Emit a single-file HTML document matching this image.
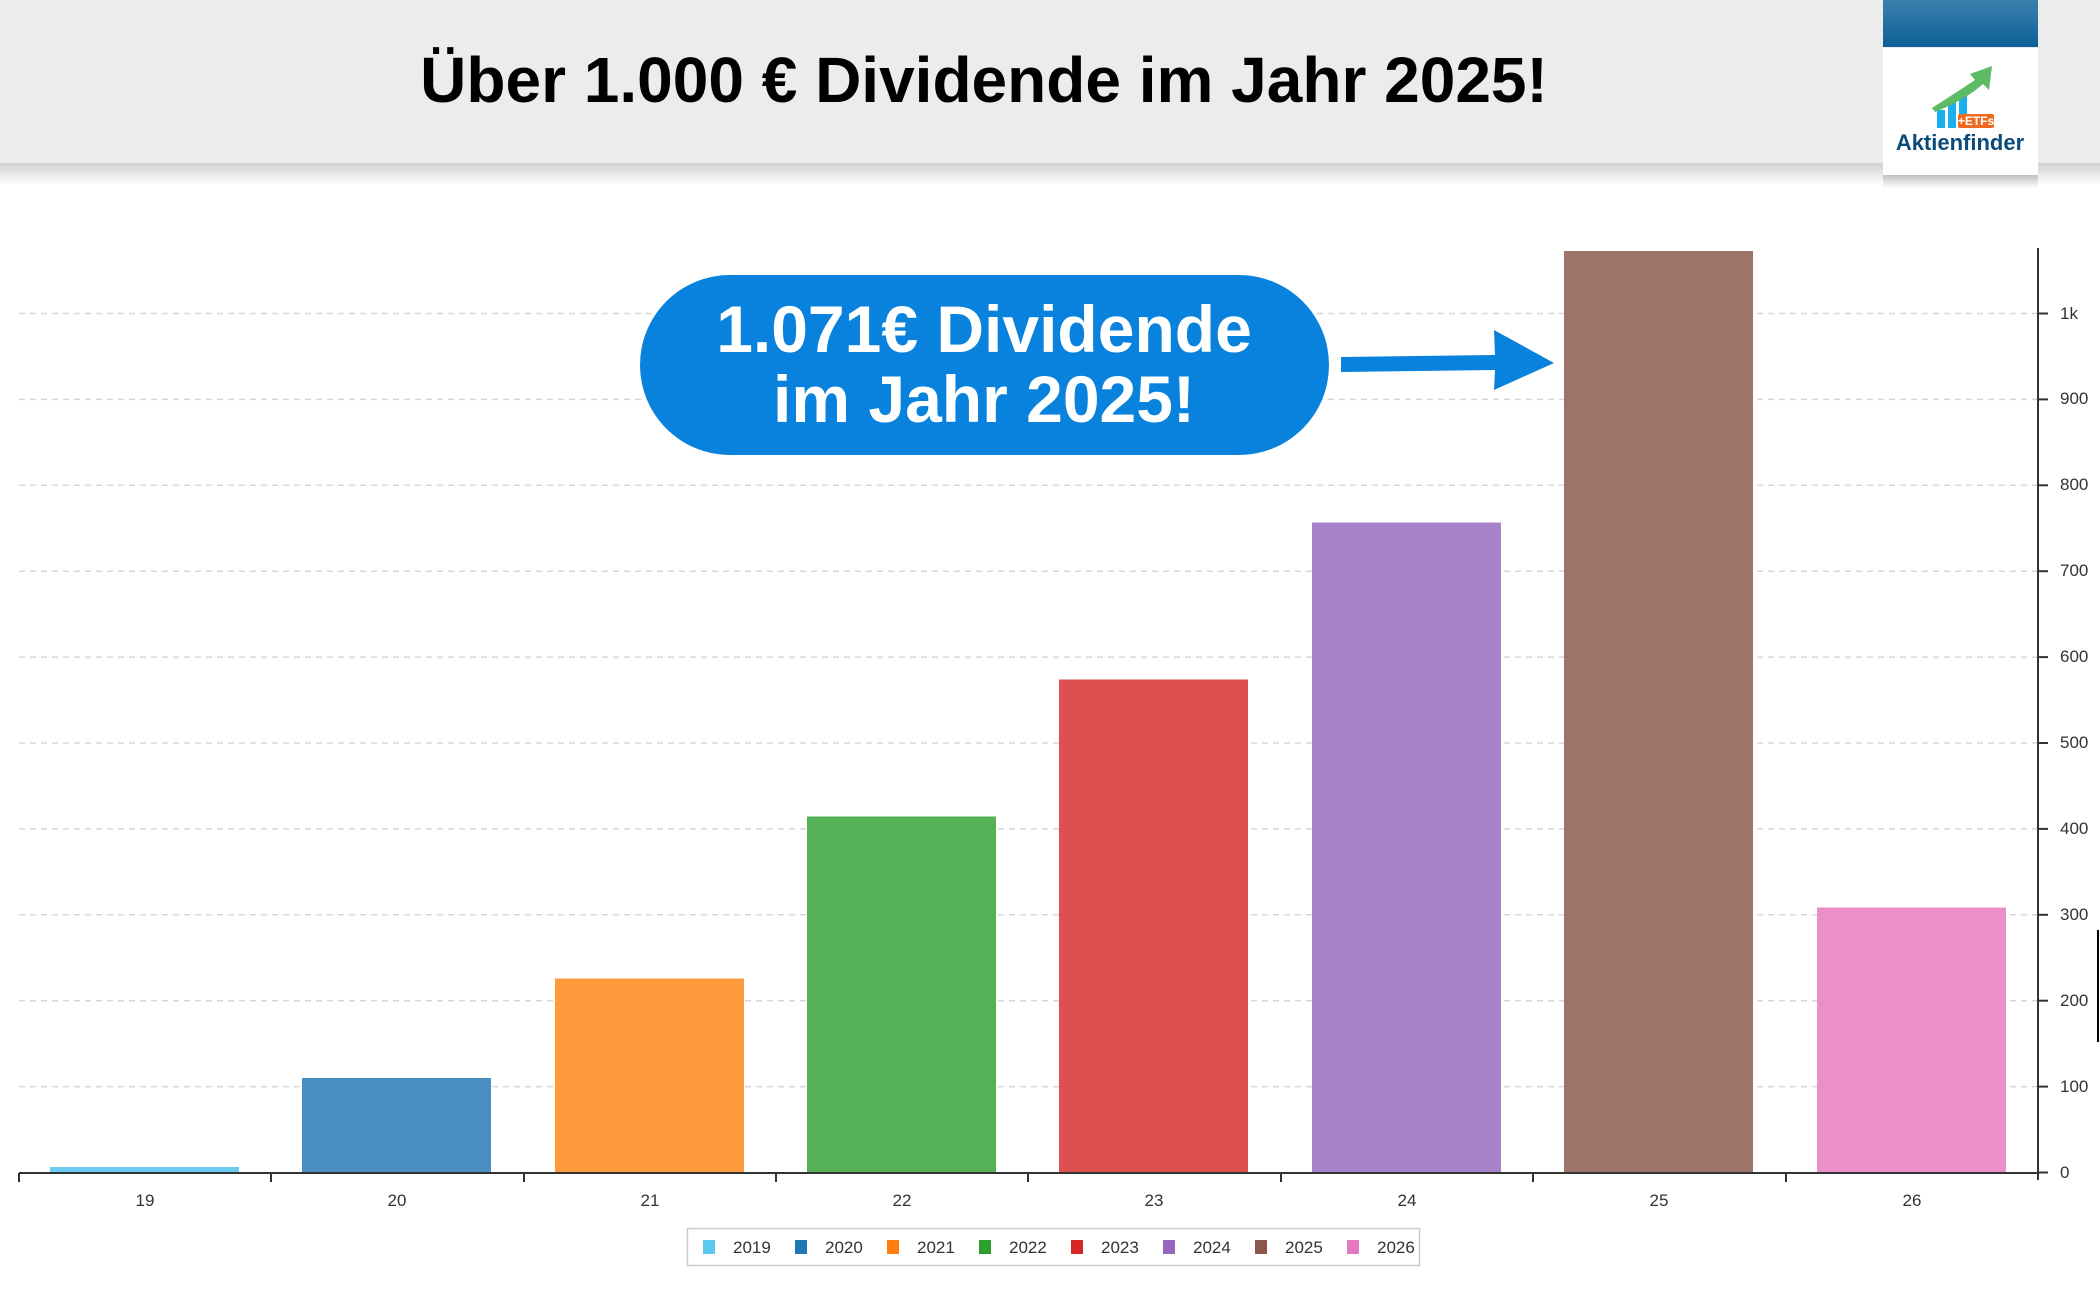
<!DOCTYPE html>
<html><head><meta charset="utf-8"><style>
html,body{margin:0;padding:0;width:2100px;height:1292px;overflow:hidden;background:#fff}
svg{display:block}
</style></head><body>
<svg width="2100" height="1292" viewBox="0 0 2100 1292" xmlns="http://www.w3.org/2000/svg" font-family="'Liberation Sans', sans-serif">
<defs>
<linearGradient id="sh" x1="0" y1="0" x2="0" y2="1"><stop offset="0" stop-color="#000" stop-opacity="0.18"/><stop offset="1" stop-color="#000" stop-opacity="0"/></linearGradient>
<linearGradient id="bl" x1="0" y1="0" x2="0" y2="1"><stop offset="0" stop-color="#3b80ae"/><stop offset="1" stop-color="#0c5f96"/></linearGradient>
</defs>
<rect x="0" y="0" width="2100" height="163" fill="#ececec"/>
<rect x="0" y="163" width="2100" height="22" fill="url(#sh)"/>
<text x="984" y="102" text-anchor="middle" font-size="64" font-weight="bold" fill="#000">Über 1.000 € Dividende im Jahr 2025!</text>
<!-- logo -->
<rect x="1883" y="48" width="155" height="127" fill="#fff"/>
<rect x="1883" y="175" width="155" height="14" fill="url(#sh)"/>
<rect x="1883" y="0" width="155" height="47" fill="url(#bl)"/>
<rect x="1937" y="110" width="8" height="18" fill="#1ab0f0"/>
<rect x="1948" y="102" width="8" height="26" fill="#1ab0f0"/>
<rect x="1959" y="94" width="8" height="34" fill="#1ab0f0"/>
<path d="M1932 108 Q1960 90 1975 80 L1970 74 L1992 66 L1989 90 L1983 84 Q1965 100 1935 112 Z" fill="#5dbb63"/>
<rect x="1958" y="114" width="36" height="14" rx="2" fill="#ee6a1f"/>
<text x="1976" y="125" text-anchor="middle" font-size="12" font-weight="bold" fill="#fff">+ETFs</text>
<text x="1960" y="150" text-anchor="middle" font-size="22" font-weight="bold" fill="#0b4b7a">Aktienfinder</text>
<!-- gridlines -->
<g stroke="#d8d8d8" stroke-width="1.5" stroke-dasharray="6,5">
<line x1="19" x2="2038" y1="1086.6" y2="1086.6"/>
<line x1="19" x2="2038" y1="1000.7" y2="1000.7"/>
<line x1="19" x2="2038" y1="914.8" y2="914.8"/>
<line x1="19" x2="2038" y1="828.9" y2="828.9"/>
<line x1="19" x2="2038" y1="743" y2="743"/>
<line x1="19" x2="2038" y1="657.1" y2="657.1"/>
<line x1="19" x2="2038" y1="571.2" y2="571.2"/>
<line x1="19" x2="2038" y1="485.3" y2="485.3"/>
<line x1="19" x2="2038" y1="399.4" y2="399.4"/>
<line x1="19" x2="2038" y1="313.5" y2="313.5"/>
</g>
<!-- bars -->
<rect x="50" y="1167" width="189" height="5.5" fill="#6ccbf0"/>
<rect x="302" y="1078" width="189" height="94.5" fill="#4a8fc2"/>
<rect x="555" y="978.5" width="189" height="194" fill="#fd9a3b"/>
<rect x="807" y="816.5" width="189" height="356" fill="#55b155"/>
<rect x="1059" y="679.5" width="189" height="493" fill="#dc5050"/>
<rect x="1312" y="522.5" width="189" height="650" fill="#a983c9"/>
<rect x="1564" y="251" width="189" height="921.5" fill="#9e746a"/>
<rect x="1817" y="907.5" width="189" height="265" fill="#ea8fca"/>
<!-- axes -->
<g stroke="#333" stroke-width="2">
<line x1="19" x2="2038" y1="1173" y2="1173"/>
<line x1="2038" x2="2038" y1="248" y2="1180"/>
<line x1="19" x2="19" y1="1173" y2="1182"/><line x1="271" x2="271" y1="1173" y2="1182"/><line x1="524" x2="524" y1="1173" y2="1182"/><line x1="776" x2="776" y1="1173" y2="1182"/><line x1="1028" x2="1028" y1="1173" y2="1182"/><line x1="1281" x2="1281" y1="1173" y2="1182"/><line x1="1533" x2="1533" y1="1173" y2="1182"/><line x1="1786" x2="1786" y1="1173" y2="1182"/>
<line x1="2038" x2="2048" y1="1172.5" y2="1172.5"/><line x1="2038" x2="2048" y1="1086.6" y2="1086.6"/><line x1="2038" x2="2048" y1="1000.7" y2="1000.7"/><line x1="2038" x2="2048" y1="914.8" y2="914.8"/><line x1="2038" x2="2048" y1="828.9" y2="828.9"/><line x1="2038" x2="2048" y1="743" y2="743"/><line x1="2038" x2="2048" y1="657.1" y2="657.1"/><line x1="2038" x2="2048" y1="571.2" y2="571.2"/><line x1="2038" x2="2048" y1="485.3" y2="485.3"/><line x1="2038" x2="2048" y1="399.4" y2="399.4"/><line x1="2038" x2="2048" y1="313.5" y2="313.5"/>
</g>
<line x1="2098" x2="2098" y1="930" y2="1042" stroke="#000" stroke-width="2"/>
<g font-size="17" fill="#333">
<text x="2060" y="1178">0</text><text x="2060" y="1092">100</text><text x="2060" y="1006">200</text><text x="2060" y="920">300</text><text x="2060" y="834">400</text><text x="2060" y="748">500</text><text x="2060" y="662">600</text><text x="2060" y="576">700</text><text x="2060" y="490">800</text><text x="2060" y="404">900</text><text x="2060" y="319">1k</text>
</g>
<g font-size="17" fill="#333" text-anchor="middle">
<text x="145" y="1206">19</text><text x="397" y="1206">20</text><text x="650" y="1206">21</text><text x="902" y="1206">22</text><text x="1154" y="1206">23</text><text x="1407" y="1206">24</text><text x="1659" y="1206">25</text><text x="1912" y="1206">26</text>
</g>
<!-- legend -->
<rect x="687.5" y="1228.5" width="732" height="37" fill="#fff" stroke="#ccc" stroke-width="1.5"/>
<g font-size="17" fill="#333">
<rect x="703" y="1240" width="12" height="14" fill="#5bc8f0"/><text x="733" y="1253">2019</text>
<rect x="795" y="1240" width="12" height="14" fill="#1f77b4"/><text x="825" y="1253">2020</text>
<rect x="887" y="1240" width="12" height="14" fill="#ff7f0e"/><text x="917" y="1253">2021</text>
<rect x="979" y="1240" width="12" height="14" fill="#2ca02c"/><text x="1009" y="1253">2022</text>
<rect x="1071" y="1240" width="12" height="14" fill="#d62728"/><text x="1101" y="1253">2023</text>
<rect x="1163" y="1240" width="12" height="14" fill="#9467bd"/><text x="1193" y="1253">2024</text>
<rect x="1255" y="1240" width="12" height="14" fill="#8c564b"/><text x="1285" y="1253">2025</text>
<rect x="1347" y="1240" width="12" height="14" fill="#e377c2"/><text x="1377" y="1253">2026</text>
</g>
<!-- callout -->
<rect x="640" y="275" width="689" height="180" rx="90" ry="90" fill="#0882dc"/>
<text x="984" y="352" text-anchor="middle" font-size="66" font-weight="bold" fill="#fff">1.071€ Dividende</text>
<text x="984" y="422" text-anchor="middle" font-size="66" font-weight="bold" fill="#fff">im Jahr 2025!</text>
<path d="M1341 357 L1495 355 L1494 330 L1554 363 L1494 390 L1495 370 L1341 372 Z" fill="#0882dc"/>
</svg>
</body></html>
